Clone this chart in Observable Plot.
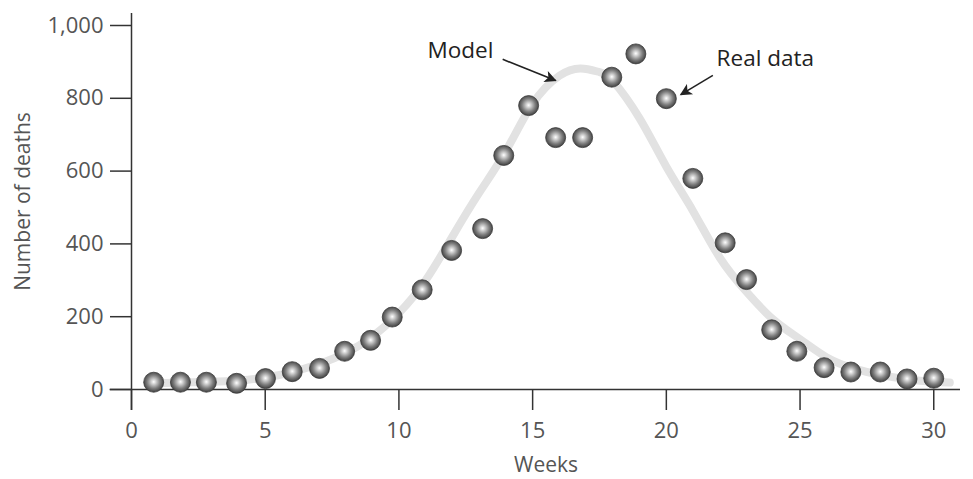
<!DOCTYPE html>
<html>
<head>
<meta charset="utf-8">
<script src="https://cdn.jsdelivr.net/npm/d3@7"></script>
<script src="https://cdn.jsdelivr.net/npm/@observablehq/plot@0.6"></script>
<style>
  html, body { margin: 0; padding: 0; background: #fff; }
</style>
</head>
<body>
<div id="chart"></div>
<script>
// Real data (weeks, deaths)
const weeks  = [0.83, 1.83, 2.8, 3.93, 5.01, 6.01, 7.03, 7.97, 8.94, 9.75,
                10.87, 11.97, 13.13, 13.92, 14.85, 15.86, 16.87, 17.96, 18.86, 20.0,
                20.99, 22.2, 23.0, 23.94, 24.88, 25.9, 26.9, 28.0, 29.0, 30.0];
const deaths = [20, 20, 20, 17, 30, 49, 58, 105, 135, 199,
                274, 382, 442, 643, 780, 692, 692, 858, 922, 799,
                580, 403, 302, 164, 105, 60, 48, 48, 29, 31];

// Model curve, read at sample positions from the picture
const modelWeeks  = [0.8, 2, 3, 4, 5, 6, 7, 8, 9, 10, 11, 12, 13, 14, 15, 16, 16.8,
                     17.5, 18, 19, 20, 21, 22, 23, 24, 25, 26, 27, 28, 29, 30, 30.6];
const modelDeaths = [17, 19, 21, 25, 33, 48, 70, 100, 145, 210, 300, 420, 540, 655, 785, 862, 882,
                     872, 848, 745, 612, 490, 362, 268, 192, 138, 88, 58, 40, 28, 21, 19];

// Axis ticks
const xTicks = [0, 5, 10, 15, 20, 25, 30];
const yTicks = [0, 200, 400, 600, 800, 1000];

// Annotations
const labels = ["Model", "Real data"];
const labelX = [12.3, 23.7];
const labelY = [931, 909];
const arrowFrom = [[13.88, 907], [21.74, 863]];
const arrowTo   = [[15.86, 849], [20.54, 810]];

const real = weeks.map((w, i) => ({week: w, deaths: deaths[i]}));
const model = modelWeeks.map((w, i) => ({week: w, deaths: modelDeaths[i]}));
const notes = labels.map((t, i) => ({text: t, x: labelX[i], y: labelY[i]}));
const arrows = arrowFrom.map((f, i) => ({x1: f[0], y1: f[1], x2: arrowTo[i][0], y2: arrowTo[i][1]}));

const chart = Plot.plot({
  width: 973,
  height: 479,
  marginLeft: 131,
  marginRight: 13,
  marginTop: 25,
  marginBottom: 90,
  style: {fontFamily: "'Open Sans', sans-serif", fontSize: "21px", background: "#fff"},
  x: {domain: [0, 31]},
  y: {domain: [0, 1000]},
  marks: [
    Plot.line(model, {x: "week", y: "deaths", stroke: "#e2e2e2", strokeWidth: 8, curve: "natural"}),
    Plot.ruleX([0], {y1: -58, y2: 1033, stroke: "#333", strokeWidth: 1.5}),
    Plot.ruleY([0], {x1: -0.8, x2: 31, stroke: "#333", strokeWidth: 1.5}),
    Plot.axisX(xTicks, {tickSize: 21, tickPadding: 12, stroke: "#333", strokeWidth: 1.5, fill: "#555", fontSize: 22, label: null}),
    Plot.axisY(yTicks, {tickSize: 21, tickPadding: 7, stroke: "#333", strokeWidth: 1.5, fill: "#555", fontSize: 22, tickFormat: d3.format(","), label: null}),
    Plot.text(["Weeks"], {frameAnchor: "bottom", dy: 82, fill: "#555", fontSize: 21}),
    Plot.text(["Number of deaths"], {frameAnchor: "left", textAnchor: "middle", rotate: -90, dx: -108, dy: -6, fill: "#555", fontSize: 21}),
    Plot.link(arrows, {x1: "x1", y1: "y1", x2: "x2", y2: "y2", stroke: "#222", strokeWidth: 1.6}),
    Plot.text(notes, {x: "x", y: "y", text: "text", fill: "#222", fontSize: 22.5}),
    Plot.dot(real, {x: "week", y: "deaths", r: 10, fill: "url(#ball)", stroke: "#3a3a3a", strokeWidth: 0.8})
  ]
});

const svg = d3.select(chart);
const defs = svg.insert("defs", ":first-child");
const g = defs.append("radialGradient").attr("id", "ball")
  .attr("cx", "50%").attr("cy", "48%").attr("r", "55%");
g.append("stop").attr("offset", "0%").attr("stop-color", "#ffffff");
g.append("stop").attr("offset", "22%").attr("stop-color", "#d0d0d0");
g.append("stop").attr("offset", "60%").attr("stop-color", "#7e7e7e");
g.append("stop").attr("offset", "100%").attr("stop-color", "#363636");
defs.append("marker").attr("id", "head")
  .attr("viewBox", "0 0 10 10").attr("refX", 9).attr("refY", 5)
  .attr("markerUnits", "userSpaceOnUse")
  .attr("markerWidth", 15).attr("markerHeight", 12)
  .attr("orient", "auto")
  .append("path").attr("d", "M0,0 L10,5 L0,10 L2.5,5 Z").attr("fill", "#222");
svg.selectAll('g[aria-label="link"] path').attr("marker-end", "url(#head)");

document.getElementById("chart").appendChild(chart);
</script>
</body>
</html>
